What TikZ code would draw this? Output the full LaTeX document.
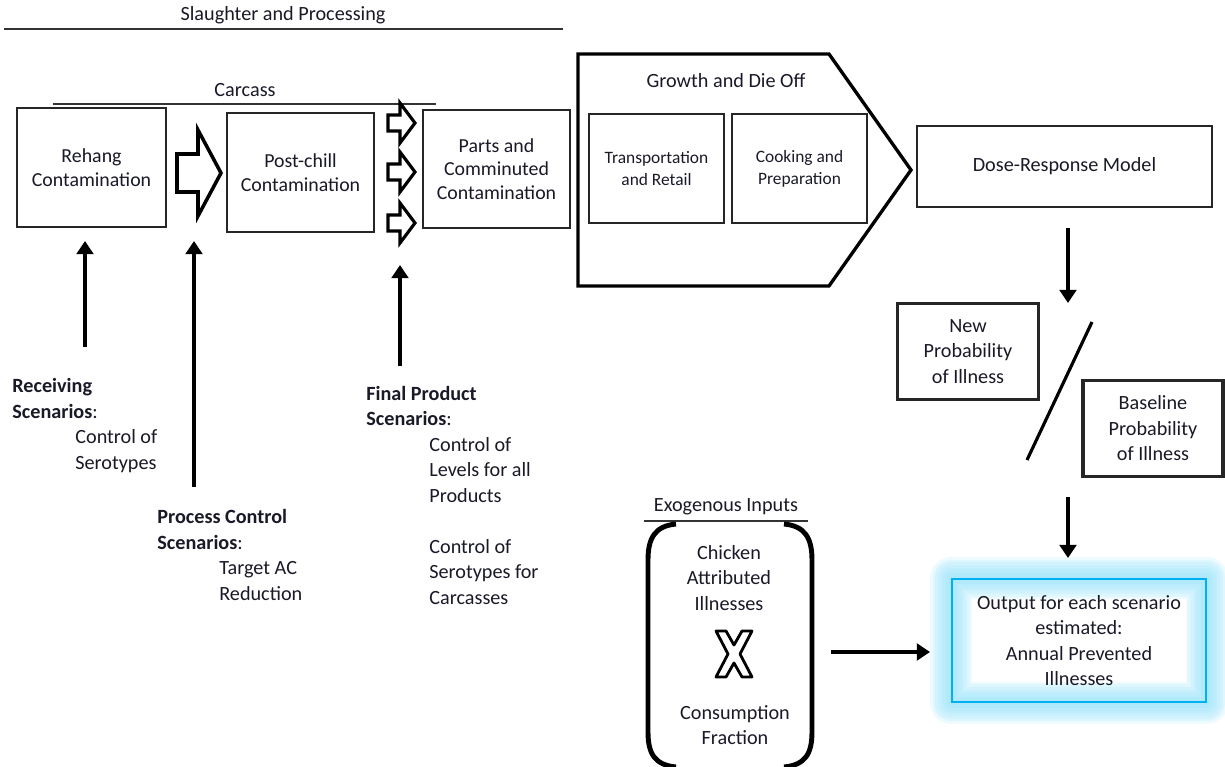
\documentclass[tikz,border=0pt]{standalone}
\usepackage{fontspec}
\setmainfont{Carlito}
\usetikzlibrary{arrows.meta,positioning,backgrounds}

\definecolor{ink}{RGB}{25,25,40}
\definecolor{glowblue}{RGB}{0,176,240}
\definecolor{glowhalo}{RGB}{150,226,250}

\newcommand{\fsmain}{\fontsize{11.5}{14.5}\selectfont}
\newcommand{\fsbox}{\fontsize{11.3}{13.3}\selectfont}
\newcommand{\fssmall}{\fontsize{9.9}{12.6}\selectfont}

\tikzset{every picture/.style={>=latex}}
\tikzset{
  sz/.style 2 args={minimum width=#1*0.02cm, minimum height=#2*0.02cm, inner sep=0pt},
  box/.style={draw=black!85, line width=0.7pt, align=center, text=ink, font=\fsbox},
  thickbox/.style={box, line width=1.9pt, font=\fsmain},
  scen/.style={anchor=base west, align=left, inner sep=0pt, text=ink, font=\fsmain},
  fat/.style={line width=2.8pt, -{Triangle[width=9.5pt,length=7.5pt]}},
  hollow/.style={draw=black, line width=1.8pt, line join=miter, fill=white},
  brk/.style={line width=2.8pt, line cap=butt}
}

\begin{document}
\begin{tikzpicture}[x=0.02cm, y=-0.02cm, every node/.style={text=ink}]
\useasboundingbox (0,0) rectangle (1225,767);

% ------------------------------------------------------------
% Slaughter and processing
% ------------------------------------------------------------

\node[font=\fsmain] (slaughter) at (283,15) {Slaughter and Processing};
\draw[black!80, line width=0.6pt] (4,29) -- (563,29);

\node[font=\fsmain] (carcass) at (245,90) {Carcass};
\draw[black!80, line width=0.6pt] (53,104) -- (436,104);

\node[box, sz={149}{119}] (rehang) at (91.5,167.5) {Rehang\\Contamination};
\node[box, sz={147}{119}] (chill)  at (300.5,172.5) {Post-chill\\Contamination};
\node[box, sz={147}{118}] (parts)  at (496.5,169) {Parts and\\Comminuted\\Contamination};

% hollow arrows between the stages
\draw[hollow, line width=2pt] (177,154) -- (198,154) -- (198,130) -- (221,173)
  -- (198,216) -- (198,192) -- (177,192) -- cycle;
\foreach \cy in {123,172,223}
  \draw[hollow] (388,\cy-8) -- (400,\cy-8) -- (400,\cy-20) -- (415,\cy)
    -- (400,\cy+20) -- (400,\cy+8) -- (388,\cy+8) -- cycle;

% ------------------------------------------------------------
% Growth and die off
% ------------------------------------------------------------

\draw[line width=1.9pt, line join=miter] (578,54) -- (829,54) -- (911,170)
  -- (829,286) -- (578,286) -- cycle;
\node[font=\fsmain] (growth) at (726,81) {Growth and Die Off};

\node[box, font=\fssmall, sz={135}{109}] (transp) at (656.5,168.5) {Transportation\\and Retail};
\node[box, font=\fssmall, sz={135}{109}] (cook)   at (799.5,168.5) {Cooking and\\Preparation};

% ------------------------------------------------------------
% Dose response and ratio
% ------------------------------------------------------------

\node[box, font=\fsmain, sz={295}{81}] (dose) at (1064.5,166.5) {Dose-Response Model};

\node[thickbox, sz={141}{96}] (newprob)  at (968,351.5) {New\\Probability\\of Illness};
\node[thickbox, sz={140}{96}] (baseprob) at (1153,428.5) {Baseline\\Probability\\of Illness};

\coordinate (slashT) at (1092,322);
\coordinate (slashB) at (1027,460);
\draw[line width=1.8pt] (slashT) -- (slashB);

\coordinate (d1a) at (1068,228);
\coordinate (d1b) at (1068,303);
\coordinate (d2a) at (1068,497);
\coordinate (d2b) at (1068,558);
\draw[fat] (d1a) -- (d1b);
\draw[fat] (d2a) -- (d2b);

% ------------------------------------------------------------
% Output
% ------------------------------------------------------------

\node[box, font=\fsmain, draw=glowblue, line width=0.85pt, sz={254}{123}] (output) at (1079,640.5)
  {Output for each scenario\\estimated:\\Annual Prevented\\Illnesses};
\begin{scope}[on background layer]
  \foreach \w in {3,6,...,24}
    \draw[glowhalo, opacity=0.17, line width=\w pt, line join=round]
      (output.north west) rectangle (output.south east);
\end{scope}

% ------------------------------------------------------------
% Exogenous inputs
% ------------------------------------------------------------

\node[font=\fsmain] (exo) at (726,507) {Exogenous Inputs};
\draw[black!80, line width=0.6pt] (644,521) -- (808,521);

\draw[brk] (676,524) .. controls (655,526) and (648,538) .. (648,560) -- (648,732)
  .. controls (648,754) and (655,765) .. (676,767);
\draw[brk] (784,524) .. controls (805,526) and (812,538) .. (812,560) -- (812,732)
  .. controls (812,754) and (805,765) .. (784,767);

\node[font=\fsmain, align=center] (chicken) at (729,578) {Chicken\\Attributed\\Illnesses};
\node[font=\fsmain, align=center] (consump) at (735,725) {Consumption\\Fraction};

% times sign
\begin{scope}[shift={(734,654)}]
  \draw[hollow, line width=1.6pt, line join=round] (-18,-23) -- (-8,-23) -- (0,-9) -- (8,-23) -- (18,-23)
    -- (6,0) -- (18,23) -- (8,23) -- (0,9) -- (-8,23) -- (-18,23) -- (-6,0) -- cycle;
\end{scope}

\coordinate (exoR) at (831,652);
\coordinate (outL) at (930,652);
\draw[fat] (exoR) -- (outL);

% ------------------------------------------------------------
% Scenarios (anchor is the baseline of the last line)
% ------------------------------------------------------------

\node[scen] (receiving) at (12,469)
  {\textbf{Receiving}\\\textbf{Scenarios}:\\\hspace*{1.26cm}Control of\\\hspace*{1.26cm}Serotypes};
\node[scen] (process) at (157,600)
  {\textbf{Process Control}\\\textbf{Scenarios}:\\\hspace*{1.24cm}Target AC\\\hspace*{1.24cm}Reduction};
\node[scen] (final) at (366,604)
  {\textbf{Final Product}\\\textbf{Scenarios}:\\\hspace*{1.26cm}Control of\\\hspace*{1.26cm}Levels for all\\
   \hspace*{1.26cm}Products\\\mbox{}\\\hspace*{1.26cm}Control of\\\hspace*{1.26cm}Serotypes for\\
   \hspace*{1.26cm}Carcasses};

\coordinate (u1a) at (85,347);  \coordinate (u1b) at (85,241);
\coordinate (u2a) at (194,487); \coordinate (u2b) at (194,241);
\coordinate (u3a) at (400,366); \coordinate (u3b) at (400,265);
\draw[fat] (u1a) -- (u1b);
\draw[fat] (u2a) -- (u2b);
\draw[fat] (u3a) -- (u3b);

\end{tikzpicture}
\end{document}
